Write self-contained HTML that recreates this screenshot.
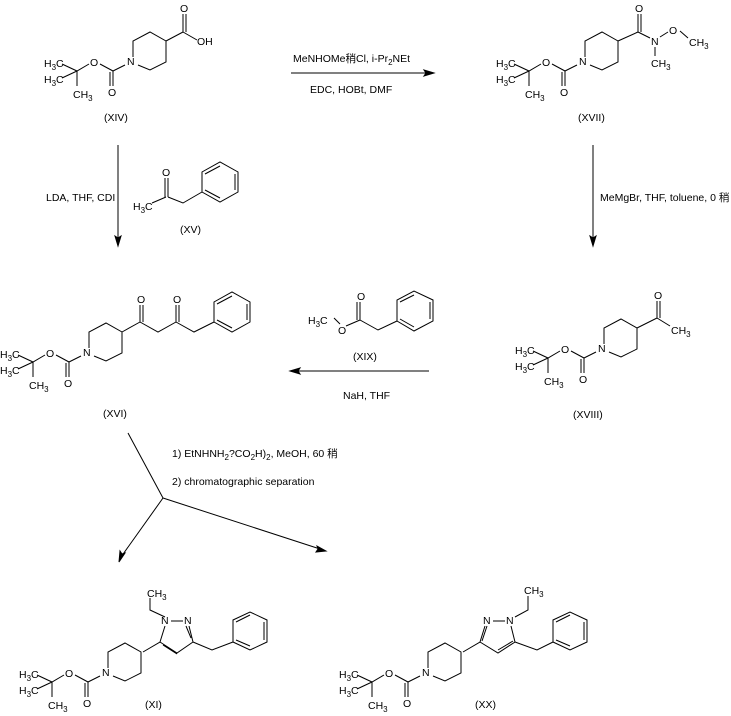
<!DOCTYPE html>
<html><head><meta charset="utf-8"><style>
html,body{margin:0;padding:0;background:#fff;}
svg{display:block;}
text{font-family:"Liberation Sans","Noto Sans CJK SC",sans-serif;font-size:10.5px;fill:#000;}
.s{font-size:8px;}
path,line{stroke:#000;stroke-width:1;fill:none;}
</style></head><body>
<svg width="731" height="716" viewBox="0 0 731 716" xmlns="http://www.w3.org/2000/svg">
<g>
<path d="M133,57 L133,41 L150,32 L166,41 L166,62 L150,70 L138,65 M125,65 L113,71 L100,64 M89,64 L77,71 L62,64 M77,71 L62,78 M77,71 L77,86 M113,71 L113,86 M110,72 L110,86"/>
<text x="127" y="65">N</text><text x="90" y="66">O</text><text x="108" y="96">O</text>
<text x="44" y="67">H<tspan class="s" dy="3">3</tspan><tspan dy="-3">C</tspan></text>
<text x="44" y="83">H<tspan class="s" dy="3">3</tspan><tspan dy="-3">C</tspan></text>
<text x="73" y="98">CH<tspan class="s" dy="3">3</tspan></text>
</g>
<g transform="translate(452,0)">
<path d="M133,57 L133,41 L150,32 L166,41 L166,62 L150,70 L138,65 M125,65 L113,71 L100,64 M89,64 L77,71 L62,64 M77,71 L62,78 M77,71 L77,86 M113,71 L113,86 M110,72 L110,86"/>
<text x="127" y="65">N</text><text x="90" y="66">O</text><text x="108" y="96">O</text>
<text x="44" y="67">H<tspan class="s" dy="3">3</tspan><tspan dy="-3">C</tspan></text>
<text x="44" y="83">H<tspan class="s" dy="3">3</tspan><tspan dy="-3">C</tspan></text>
<text x="73" y="98">CH<tspan class="s" dy="3">3</tspan></text>
</g>
<g transform="translate(471,287)">
<path d="M133,57 L133,41 L150,32 L166,41 L166,62 L150,70 L138,65 M125,65 L113,71 L100,64 M89,64 L77,71 L62,64 M77,71 L62,78 M77,71 L77,86 M113,71 L113,86 M110,72 L110,86"/>
<text x="127" y="65">N</text><text x="90" y="66">O</text><text x="108" y="96">O</text>
<text x="44" y="67">H<tspan class="s" dy="3">3</tspan><tspan dy="-3">C</tspan></text>
<text x="44" y="83">H<tspan class="s" dy="3">3</tspan><tspan dy="-3">C</tspan></text>
<text x="73" y="98">CH<tspan class="s" dy="3">3</tspan></text>
</g>
<g transform="translate(-44,291)">
<path d="M133,57 L133,41 L150,32 L166,41 L166,62 L150,70 L138,65 M125,65 L113,71 L100,64 M89,64 L77,71 L62,64 M77,71 L62,78 M77,71 L77,86 M113,71 L113,86 M110,72 L110,86"/>
<text x="127" y="65">N</text><text x="90" y="66">O</text><text x="108" y="96">O</text>
<text x="44" y="67">H<tspan class="s" dy="3">3</tspan><tspan dy="-3">C</tspan></text>
<text x="44" y="83">H<tspan class="s" dy="3">3</tspan><tspan dy="-3">C</tspan></text>
<text x="73" y="98">CH<tspan class="s" dy="3">3</tspan></text>
</g>
<g transform="translate(-25,611)">
<path d="M133,57 L133,41 L150,32 L166,41 L166,62 L150,70 L138,65 M125,65 L113,71 L100,64 M89,64 L77,71 L62,64 M77,71 L62,78 M77,71 L77,86 M113,71 L113,86 M110,72 L110,86"/>
<text x="127" y="65">N</text><text x="90" y="66">O</text><text x="108" y="96">O</text>
<text x="44" y="67">H<tspan class="s" dy="3">3</tspan><tspan dy="-3">C</tspan></text>
<text x="44" y="83">H<tspan class="s" dy="3">3</tspan><tspan dy="-3">C</tspan></text>
<text x="73" y="98">CH<tspan class="s" dy="3">3</tspan></text>
</g>
<g transform="translate(295,611)">
<path d="M133,57 L133,41 L150,32 L166,41 L166,62 L150,70 L138,65 M125,65 L113,71 L100,64 M89,64 L77,71 L62,64 M77,71 L62,78 M77,71 L77,86 M113,71 L113,86 M110,72 L110,86"/>
<text x="127" y="65">N</text><text x="90" y="66">O</text><text x="108" y="96">O</text>
<text x="44" y="67">H<tspan class="s" dy="3">3</tspan><tspan dy="-3">C</tspan></text>
<text x="44" y="83">H<tspan class="s" dy="3">3</tspan><tspan dy="-3">C</tspan></text>
<text x="73" y="98">CH<tspan class="s" dy="3">3</tspan></text>
</g>

<!-- XIV acid -->
<path d="M166,41 L183,32 M183,32 L183,14 M186,32 L186,14 M183,32 L197,40"/>
<text x="180" y="12">O</text><text x="197" y="45">OH</text>
<text x="104" y="121">(XIV)</text>

<!-- XVII Weinreb -->
<path d="M618,41 L638,32 M638,32 L638,14 M641,32 L641,14 M638,32 L650,38 M660,37 L668,32 M680,31 L688,38 M655,47 L655,56"/>
<text x="635" y="12">O</text><text x="651" y="45">N</text><text x="669" y="34">O</text>
<text x="689" y="46">CH<tspan class="s" dy="3">3</tspan></text>
<text x="651" y="67">CH<tspan class="s" dy="3">3</tspan></text>
<text x="578" y="121">(XVII)</text>

<!-- XVIII acetyl -->
<path d="M637,328 L657,318 M657,318 L657,301 M660,318 L660,301 M657,318 L670,326"/>
<text x="654" y="299">O</text>
<text x="671" y="334">CH<tspan class="s" dy="3">3</tspan></text>
<text x="573" y="418">(XVIII)</text>

<!-- XVI diketone -->
<path d="M122,332 L140,322 M140,322 L140,305 M143,322 L143,305 M140,322 L158,332 L176,322 M176,322 L176,305 M179,322 L179,305 M176,322 L194,332 L214,322"/>
<path d="M214,322 L214,302 L232,292 L250,302 L250,322 L232,332 Z M217,304 L232,296 M247,304 L247,320 M232,328 L217,320"/>
<text x="137" y="303">O</text><text x="173" y="303">O</text>
<text x="103" y="417">(XVI)</text>

<!-- XV -->
<path d="M168,197 L168,178 M165,197 L165,178 M152,203 L166,197 M168,197 L183,203 L202,192"/>
<path d="M202,192 L202,172 L220,162 L238,172 L238,192 L220,202 Z M205,174 L220,166 M235,174 L235,190 M220,198 L205,190"/>
<text x="162" y="176">O</text>
<text x="133" y="210">H<tspan class="s" dy="3">3</tspan><tspan dy="-3">C</tspan></text>
<text x="180" y="233">(XV)</text>

<!-- XIX -->
<path d="M334,318 L340,324 M346,326 L360,320 M360,320 L360,302 M357,320 L357,302 M360,320 L378,330 L397,321"/>
<path d="M397,321 L397,300 L414,291 L433,300 L433,321 L414,331 Z M400,302 L414,295 M430,302 L430,319 M414,327 L400,319"/>
<text x="357" y="300">O</text><text x="338" y="334">O</text>
<text x="308" y="324">H<tspan class="s" dy="3">3</tspan><tspan dy="-3">C</tspan></text>
<text x="353" y="360">(XIX)</text>

<!-- XI pyrazole -->
<path d="M143,652 L160,642 L165,626 M160,642 L177,653 L193,642 M163,645 L177,654 M193,642 L189,626 M171,621 L183,621 M165,617 L150,610 L150,598 M191,638 L186,626 M193,642 L212,650 L233,642"/>
<path d="M233,642 L233,620 L250,612 L267,620 L267,642 L250,650 Z M236,622 L250,615 M264,622 L264,640 M250,646 L236,640"/>
<text x="161" y="624">N</text><text x="184" y="624">N</text>
<text x="147" y="597">CH<tspan class="s" dy="3">3</tspan></text>
<text x="145" y="708">(XI)</text>

<!-- XX pyrazole -->
<path d="M463,652 L480,642 L485,626 M482,641 L487,626 M480,642 L498,653 L515,642 L511,626 M498,650 L513,641 M493,621 L505,621 M515,617 L528,610 L528,596 M515,642 L537,650 L553,642"/>
<path d="M553,642 L553,620 L570,612 L587,620 L587,642 L570,650 Z M556,622 L570,615 M584,622 L584,640 M570,646 L556,640"/>
<text x="483" y="624">N</text><text x="506" y="624">N</text>
<text x="524" y="594">CH<tspan class="s" dy="3">3</tspan></text>
<text x="475" y="708">(XX)</text>

<!-- arrows -->
<line x1="291" y1="73" x2="428" y2="73"/>
<path d="M434,73 L424,70 L426,73 L424,76 Z" style="fill:#000"/>
<text x="293" y="62">MeNHOMe稍Cl, i-Pr<tspan class="s" dy="3">2</tspan><tspan dy="-3">NEt</tspan></text>
<text x="310" y="93">EDC, HOBt, DMF</text>

<line x1="118" y1="145" x2="118" y2="240"/>
<path d="M118,246 L115,236 L118,238 L121,236 Z" style="fill:#000"/>
<text x="46" y="201">LDA, THF, CDI</text>

<line x1="593" y1="145" x2="593" y2="240"/>
<path d="M593,246 L590,236 L593,238 L596,236 Z" style="fill:#000"/>
<text x="600" y="201">MeMgBr, THF, toluene, 0 稍</text>

<line x1="429" y1="371" x2="296" y2="371"/>
<path d="M290,371 L300,368 L298,371 L300,374 Z" style="fill:#000"/>
<text x="343" y="399">NaH, THF</text>

<path d="M128,433 L163,498 L121,557 M163,498 L320,549"/>
<path d="M119,562 L120,551 L122,554 L125,553 Z" style="fill:#000"/>
<path d="M326,551 L316,552 L318,549 L317,546 Z" style="fill:#000"/>
<text x="172" y="457">1) EtNHNH<tspan class="s" dy="3">2</tspan><tspan dy="-3">?CO</tspan><tspan class="s" dy="3">2</tspan><tspan dy="-3">H)</tspan><tspan class="s" dy="3">2</tspan><tspan dy="-3">, MeOH, 60 稍</tspan></text>
<text x="172" y="485">2) chromatographic separation</text>
</svg>
</body></html>
